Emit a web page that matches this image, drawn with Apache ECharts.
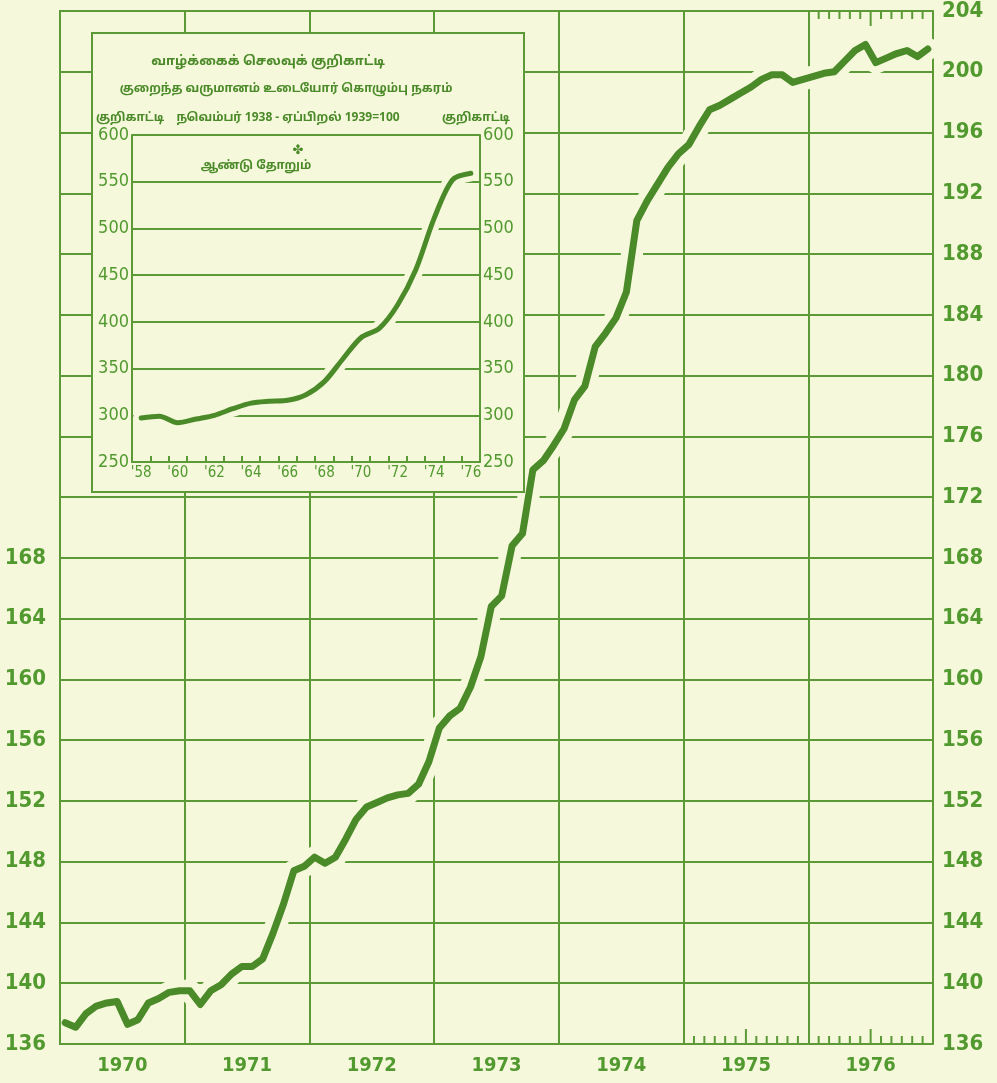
<!DOCTYPE html>
<html>
<head>
<meta charset="utf-8">
<script src="https://cdn.jsdelivr.net/npm/echarts@6/dist/echarts.min.js"></script>
<style>
  html, body { margin: 0; padding: 0; background: #f6f8dc; }
  #main { width: 997px; height: 1083px; }
</style>
</head>
<body>
<div id="main"></div>
<script>
// main chart: monthly index 1970 - 1976
var years = ['1970', '1971', '1972', '1973', '1974', '1975', '1976'];
var monthly = [
    137.4, 137.1, 138.0, 138.5, 138.7, 138.8, 137.3, 137.6, 138.7, 139.0, 139.4, 139.5,
    139.5, 138.6, 139.5, 139.9, 140.6, 141.1, 141.1, 141.6, 143.3, 145.2, 147.4, 147.7,
    148.3, 147.9, 148.3, 149.5, 150.8, 151.6, 151.9, 152.2, 152.4, 152.5, 153.1, 154.6,
    156.8, 157.6, 158.1, 159.5, 161.5, 164.8, 165.5, 168.8, 169.6, 173.8, 174.4, 175.4,
    176.5, 178.4, 179.3, 181.9, 182.8, 183.8, 185.5, 190.2, 191.5, 192.6, 193.7, 194.6,
    195.2, 196.4, 197.5, 197.8, 198.2, 198.6, 199.0, 199.5, 199.8, 199.8, 199.3, 199.5,
    199.7, 199.9, 200.0, 200.7, 201.4, 201.8, 200.6, 200.9, 201.2, 201.4, 201.0, 201.5
];
// month ticks drawn along the bottom (1975-76) and the top (1976)
var bottomTicks = [61, 62, 63, 64, 65, 66, 67, 68, 69, 70, 71, 73, 74, 75, 76, 77, 78, 79, 80, 81, 82, 83];
var topTicks = [73, 74, 75, 76, 77, 78, 79, 80, 81, 82, 83];

// inset: yearly index 1958 - 1976
var insetYears = ['1958', '1959', '1960', '1961', '1962', '1963', '1964', '1965', '1966', '1967',
    '1968', '1969', '1970', '1971', '1972', '1973', '1974', '1975', '1976'];
var yearly = [297, 299, 292, 296, 300, 307, 313, 315, 316, 322, 336, 360, 383, 393, 418, 456, 511, 552, 559];

var BG = '#f6f8dc';
var GREEN = '#4b8a28';
var GRID = '#5b9a36';
var LABEL = '#529a30';
var NUM_FONT = "'DejaVu Sans Condensed', 'DejaVu Sans', sans-serif";
var TA_FONT = "'Noto Sans Tamil', 'Lohit Tamil', 'Noto Sans', sans-serif";

var chart = echarts.init(document.getElementById('main'), null, { renderer: 'canvas' });

var linePoints = monthly.map(function (v, i) { return [i + 0.5, v]; });

function tickRender(fromTop) {
    return function (params, api) {
        var m = api.value(0);
        var p = api.coord([m, fromTop ? 204 : 136]);
        var len = (m % 6 === 0) ? 15 : 8;
        var dir = fromTop ? 1 : -1;
        return {
            type: 'line',
            shape: { x1: p[0], y1: p[1], x2: p[0], y2: p[1] + dir * len },
            style: { stroke: GRID, lineWidth: 2 }
        };
    };
}

var numLabel = { color: LABEL, fontFamily: NUM_FONT, fontWeight: 'bold', fontSize: 22 };
var insetLabel = { color: LABEL, fontFamily: NUM_FONT, fontSize: 18 };

function tamil(x, y, text, size, align) {
    return {
        type: 'text', z: 11, x: x, y: y,
        style: { text: text, fill: GREEN, font: 'bold ' + size + 'px ' + TA_FONT, textAlign: align || 'center', textVerticalAlign: 'middle' }
    };
}

var option = {
    backgroundColor: BG,
    animation: false,
    grid: [
        { left: 60, right: 64, top: 10, bottom: 39 },
        { left: 132, right: 517, top: 135, bottom: 621 }
    ],
    graphic: [
        {
            type: 'rect', z: 10,
            shape: { x: 92, y: 33, width: 432, height: 459 },
            style: { fill: BG, stroke: GRID, lineWidth: 2 }
        },
        tamil(268, 62, 'வாழ்க்கைக் செலவுக் குறிகாட்டி', 13),
        tamil(286, 90, 'குறைந்த வருமானம் உடையோர் கொழும்பு நகரம்', 12),
        tamil(96, 119, 'குறிகாட்டி', 12, 'left'),
        tamil(288, 119, 'நவெம்பர் 1938 - ஏப்பிறல் 1939=100', 12),
        tamil(510, 119, 'குறிகாட்டி', 12, 'right'),
        {
            type: 'text', z: 11, x: 298, y: 151,
            style: { text: '✤', fill: GREEN, font: 'bold 13px DejaVu Sans', textAlign: 'center', textVerticalAlign: 'middle' }
        },
        tamil(256, 167, 'ஆண்டு தோறும்', 12)
    ],
    xAxis: [
        // 0: data axis, vertical year lines
        {
            type: 'value', gridIndex: 0, min: 0, max: 84, interval: 12, z: 0,
            axisLine: { show: false }, axisTick: { show: false }, axisLabel: { show: false },
            splitLine: { show: true, lineStyle: { color: GRID, width: 2 } }
        },
        // 1: year labels + bottom frame
        {
            type: 'category', gridIndex: 0, data: years, position: 'bottom', z: 3,
            axisLine: { show: true, lineStyle: { color: GRID, width: 2 } },
            axisTick: { show: false }, splitLine: { show: false },
            axisLabel: Object.assign({ margin: 12 }, numLabel, { fontSize: 20 })
        },
        // 2: top frame
        {
            type: 'value', gridIndex: 0, min: 0, max: 84, position: 'top', z: 3,
            axisLine: { show: true, lineStyle: { color: GRID, width: 2 } },
            axisTick: { show: false }, axisLabel: { show: false }, splitLine: { show: false }
        },
        // 3: inset years
        {
            type: 'category', gridIndex: 1, data: insetYears, z: 14,
            axisLine: { show: true, lineStyle: { color: GRID, width: 2 } },
            axisTick: { show: true, inside: true, length: 6, interval: 0, lineStyle: { color: GRID, width: 2 } },
            axisLabel: Object.assign({ margin: 4, interval: 1, formatter: function (v) { return "'" + v.slice(2); } }, insetLabel, { fontSize: 15 }),
            splitLine: { show: false }
        },
        // 4: inset 1970 divider
        {
            type: 'category', gridIndex: 1, data: insetYears, z: 11,
            axisLine: { show: false }, axisTick: { show: false }, axisLabel: { show: false },
            splitLine: { show: true, interval: function (idx) { return idx === 12; }, lineStyle: { color: GRID, width: 2 } }
        }
    ],
    yAxis: [
        // 0: left labels
        {
            type: 'value', gridIndex: 0, min: 136, max: 204, interval: 4, position: 'left', z: 3,
            axisLine: { show: true, lineStyle: { color: GRID, width: 2 } },
            axisTick: { show: false }, splitLine: { show: false },
            axisLabel: Object.assign({ margin: 14, formatter: function (v) { return v <= 168 ? String(v) : ''; } }, numLabel)
        },
        // 1: right labels
        {
            type: 'value', gridIndex: 0, min: 136, max: 204, interval: 4, position: 'right', z: 3,
            axisLine: { show: true, lineStyle: { color: GRID, width: 2 } },
            axisTick: { show: false }, splitLine: { show: false },
            axisLabel: Object.assign({ margin: 9 }, numLabel)
        },
        // 2: horizontal grid
        {
            type: 'value', gridIndex: 0, min: 136, max: 204, interval: 4, z: 0,
            axisLine: { show: false }, axisTick: { show: false }, axisLabel: { show: false },
            splitLine: { show: true, lineStyle: { color: GRID, width: 2 } }
        },
        // 3: inset left
        {
            type: 'value', gridIndex: 1, min: 250, max: 600, interval: 50, position: 'left', z: 14,
            axisLine: { show: true, lineStyle: { color: GRID, width: 2 } },
            axisTick: { show: false }, splitLine: { show: false },
            axisLabel: Object.assign({ margin: 3 }, insetLabel)
        },
        // 4: inset right
        {
            type: 'value', gridIndex: 1, min: 250, max: 600, interval: 50, position: 'right', z: 14,
            axisLine: { show: true, lineStyle: { color: GRID, width: 2 } },
            axisTick: { show: false }, splitLine: { show: false },
            axisLabel: Object.assign({ margin: 3 }, insetLabel)
        },
        // 5: inset grid
        {
            type: 'value', gridIndex: 1, min: 250, max: 600, interval: 50, z: 11,
            axisLine: { show: false }, axisTick: { show: false }, axisLabel: { show: false },
            splitLine: { show: true, lineStyle: { color: GRID, width: 2 } }
        }
    ],
    series: [
        {
            // paper gap around the curve (grid lines break near it)
            type: 'line', xAxisIndex: 0, yAxisIndex: 0, z: 1, data: linePoints,
            symbol: 'none', silent: true,
            lineStyle: { color: BG, width: 22, cap: 'round', join: 'round' }
        },
        {
            type: 'line', xAxisIndex: 0, yAxisIndex: 0, z: 2, data: linePoints,
            symbol: 'none',
            lineStyle: { color: GREEN, width: 7, cap: 'round', join: 'round' }
        },
        {
            type: 'custom', xAxisIndex: 0, yAxisIndex: 0, z: 3,
            renderItem: tickRender(false),
            data: bottomTicks.map(function (m) { return [m, 136]; })
        },
        {
            type: 'custom', xAxisIndex: 0, yAxisIndex: 0, z: 3,
            renderItem: tickRender(true),
            data: topTicks.map(function (m) { return [m, 204]; })
        },
        {
            type: 'line', xAxisIndex: 3, yAxisIndex: 3, z: 12, data: yearly,
            symbol: 'none', silent: true, smooth: 0.3,
            lineStyle: { color: BG, width: 16, cap: 'round' }
        },
        {
            type: 'line', xAxisIndex: 3, yAxisIndex: 3, z: 13, data: yearly,
            symbol: 'none', smooth: 0.3,
            lineStyle: { color: GREEN, width: 5, cap: 'round' }
        }
    ]
};

chart.setOption(option);
</script>
</body>
</html>
